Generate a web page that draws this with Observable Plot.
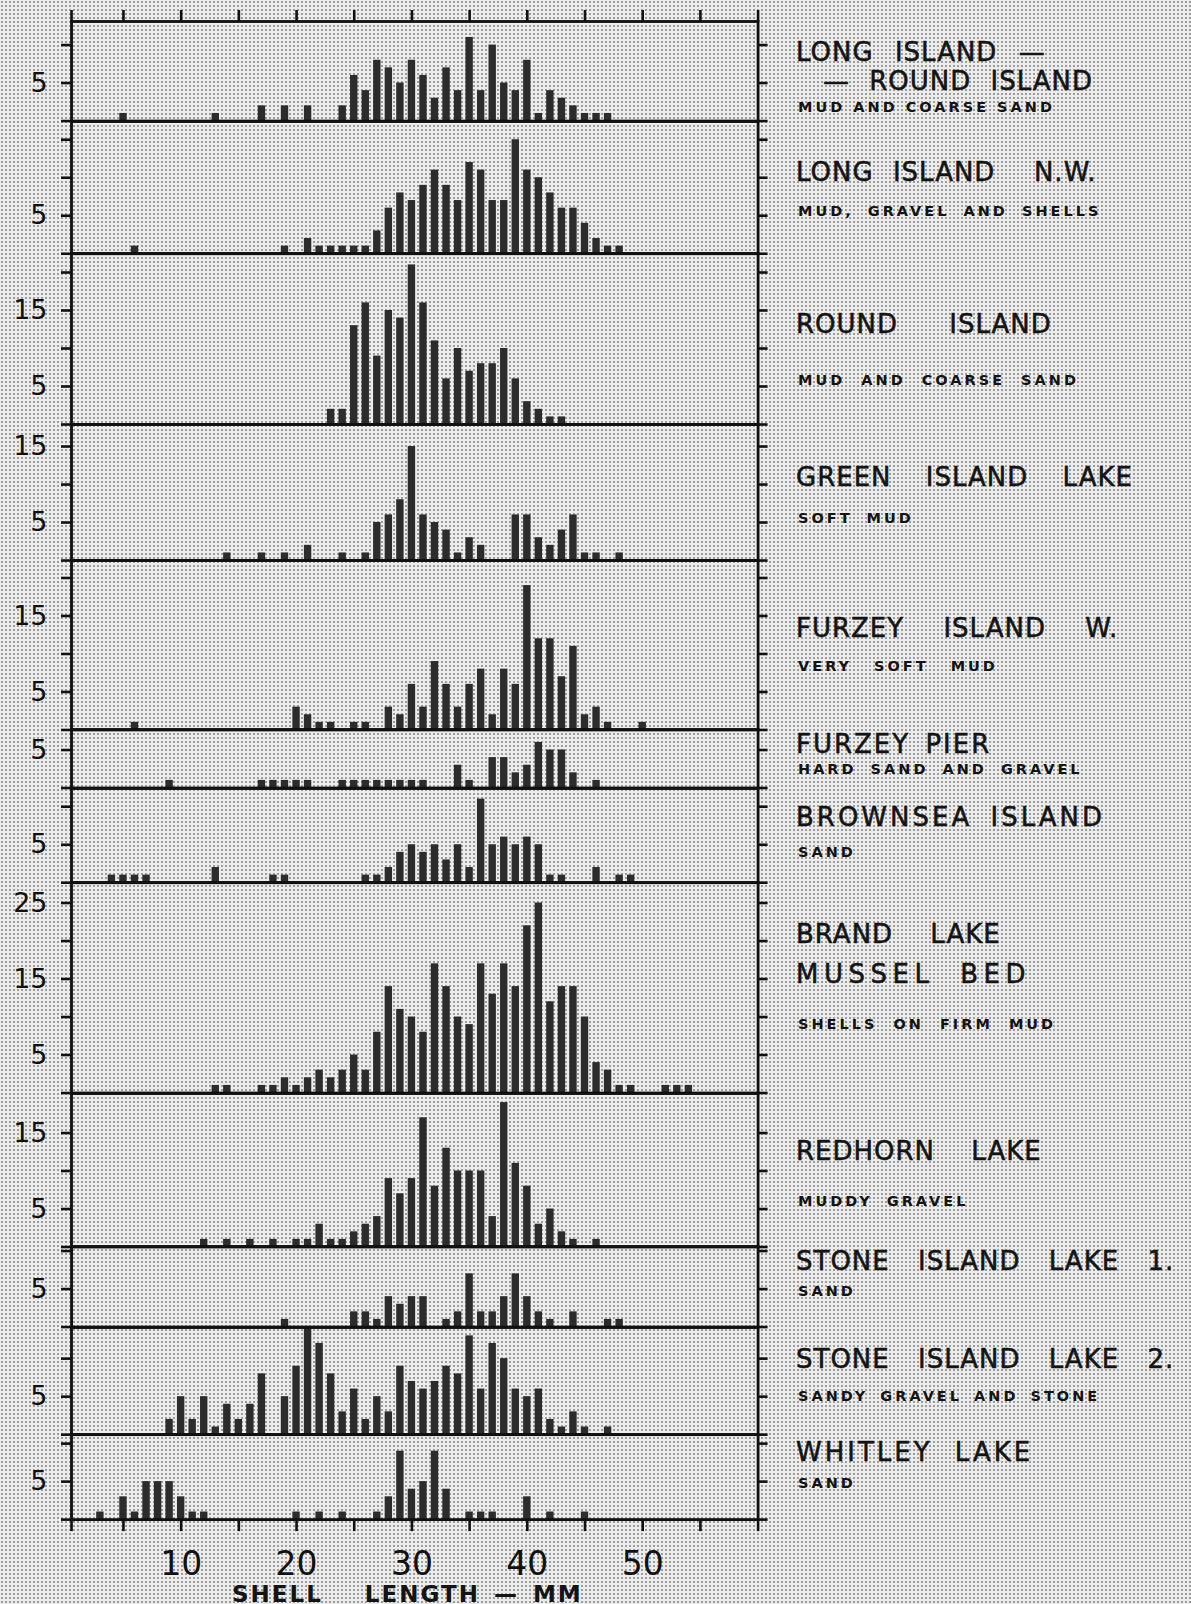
<!DOCTYPE html>
<html>
<head>
<meta charset="utf-8">
<script src="https://cdn.jsdelivr.net/npm/d3@7"></script>
<script src="https://cdn.jsdelivr.net/npm/@observablehq/plot@0.6"></script>
<style>
  html, body { margin: 0; padding: 0; }
  body {
    width: 1191px; height: 1604px; overflow: hidden;
    background-color: #ececec;
    background-image: radial-gradient(circle, rgba(60,60,60,0.45) 0.8px, rgba(0,0,0,0) 1.2px);
    background-size: 4px 4px;
  }
  #chart { position: relative; width: 1191px; height: 1604px; }
  #chart svg { position: absolute; left: 0; overflow: visible; }
  .lab { position: absolute; white-space: pre; font-family: "DejaVu Sans", sans-serif; color: #141414; transform: translateY(-50%); line-height: 1; }
  .title { font-size: 26px; letter-spacing: 1px; -webkit-text-stroke: 0.5px #141414; }
  .sub { font-size: 14.5px; font-weight: bold; letter-spacing: 3px; word-spacing: 6px; }
  .xlab { font-size: 23px; font-weight: bold; letter-spacing: 2px; word-spacing: 4px; }
</style>
</head>
<body>
<div id="chart"></div>
<script>
// ---------- DATA (shell length in mm -> number of shells) ----------
const llriLen = [5,13,17,19,21,24,25,26,27,28,29,30,31,32,33,34,35,36,37,38,39,40,41,42,43,44,45,46,47];
const llriN   = [1,1,2,2,2,2,6,4,8,7,5,8,6,3,7,4,11,4,10,5,4,8,1,4,3,2,1,1,1];

const lnwLen = [6,19,21,22,23,24,25,26,27,28,29,30,31,32,33,34,35,36,37,38,39,40,41,42,43,44,45,46,47,48];
const lnwN   = [1,1,2,1,1,1,1,1,3,6,8,7,9,11,9,7,12,11,7,7,15,11,10,8,6,6,4,2,1,1];

const riLen = [23,24,25,26,27,28,29,30,31,32,33,34,35,36,37,38,39,40,41,42,43];
const riN   = [2,2,13,16,9,15,14,21,16,11,6,10,7,8,8,10,6,3,2,1,1];

const gilLen = [14,17,19,21,24,26,27,28,29,30,31,32,33,34,35,36,39,40,41,42,43,44,45,46,48];
const gilN   = [1,1,1,2,1,1,5,6,8,15,6,5,4,1,3,2,6,6,3,2,4,6,1,1,1];

const fiwLen = [6,20,21,22,23,25,26,28,29,30,31,32,33,34,35,36,37,38,39,40,41,42,43,44,45,46,47,50];
const fiwN   = [1,3,2,1,1,1,1,3,2,6,3,9,6,3,6,8,2,8,6,19,12,12,7,11,2,3,1,1];

const fpLen = [9,17,18,19,20,21,24,25,26,27,28,29,30,31,34,35,37,38,39,40,41,42,43,44,46];
const fpN   = [1,1,1,1,1,1,1,1,1,1,1,1,1,1,3,1,4,4,2,3,6,5,5,2,1];

const bsLen = [4,5,6,7,13,18,19,26,27,28,29,30,31,32,33,34,35,36,37,38,39,40,41,42,43,46,48,49];
const bsN   = [1,1,1,1,2,1,1,1,1,2,4,5,4,5,3,5,2,11,5,6,5,6,5,1,1,2,1,1];

const blLen = [13,14,17,18,19,20,21,22,23,24,25,26,27,28,29,30,31,32,33,34,35,36,37,38,39,40,41,42,43,44,45,46,47,48,49,52,53,54];
const blN   = [1,1,1,1,2,1,2,3,2,3,5,3,8,14,11,10,8,17,14,10,9,17,13,17,14,22,25,12,14,14,10,4,3,1,1,1,1,1];

const rlLen = [12,14,16,18,20,21,22,23,24,25,26,27,28,29,30,31,32,33,34,35,36,37,38,39,40,41,42,43,44,46];
const rlN   = [1,1,1,1,1,1,3,1,1,2,3,4,9,7,9,17,8,13,10,10,10,4,19,11,8,3,5,2,1,1];

const sil1Len = [19,25,26,27,28,29,30,31,33,34,35,36,37,38,39,40,41,42,44,47,48];
const sil1N   = [1,2,2,1,4,3,4,4,1,2,7,2,2,4,7,4,2,1,2,1,1];

const sil2Len = [9,10,11,12,13,14,15,16,17,19,20,21,22,23,24,25,26,27,28,29,30,31,32,33,34,35,36,37,38,39,40,41,42,43,44,45,47];
const sil2N   = [2,5,2,5,1,4,2,4,8,5,9,14,12,8,3,6,2,5,3,9,7,6,7,9,8,13,6,12,10,6,5,6,2,1,3,1,1];

const wlLen = [3,5,6,7,8,9,10,11,12,20,22,24,27,28,29,30,31,32,33,35,36,37,40,42,45];
const wlN   = [1,3,1,5,5,5,3,1,1,1,1,1,1,3,9,4,5,9,4,1,1,1,3,1,1];

// axis extents / ticks (counts)
const yMaxes  = [13.1, 17.4, 22.5, 17.9, 22.3, 7.7, 12.4, 27.7, 20.2, 10.6, 14.1, 11.2];
const yTicks  = [[0,5,10],[0,5,10,15],[0,5,10,15,20],[0,5,10,15],[0,5,10,15,20],[0,5],[0,5,10],[0,5,10,15,20,25],[0,5,10,15],[0,5,10],[0,5,10],[0,5,10]];
const yLabels = [[5],[5],[5,15],[5,15],[5,15],[5],[5],[5,15,25],[5,15],[5],[5],[5]];

const xDomain = [0.5, 60];
const xTicks  = [0.5,5,10,15,20,25,30,35,40,45,50,55,60];
const xLabels = [10,20,30,40,50];
const xTitle  = "SHELL   LENGTH — MM";

// station names and bottom types
const titles = [
  ["LONG ISLAND —", "— ROUND ISLAND"],
  ["LONG ISLAND  N.W."],
  ["ROUND ISLAND"],
  ["GREEN ISLAND LAKE"],
  ["FURZEY ISLAND W."],
  ["FURZEY PIER"],
  ["BROWNSEA ISLAND"],
  ["BRAND LAKE", "MUSSEL BED"],
  ["REDHORN LAKE"],
  ["STONE ISLAND LAKE 1."],
  ["STONE ISLAND LAKE 2."],
  ["WHITLEY LAKE"]
];
const subtitles = [
  "MUD AND COARSE SAND",
  "MUD, GRAVEL AND SHELLS",
  "MUD AND COARSE SAND",
  "SOFT MUD",
  "VERY SOFT MUD",
  "HARD SAND AND GRAVEL",
  "SAND",
  "SHELLS ON FIRM MUD",
  "MUDDY GRAVEL",
  "SAND",
  "SANDY GRAVEL AND STONE",
  "SAND"
];

const series = [
  [llriLen, llriN], [lnwLen, lnwN], [riLen, riN], [gilLen, gilN], [fiwLen, fiwN], [fpLen, fpN],
  [bsLen, bsN], [blLen, blN], [rlLen, rlN], [sil1Len, sil1N], [sil2Len, sil2N], [wlLen, wlN]
];

// ---------- LAYOUT (pixels) ----------
const W = 1191, X_LEFT = 71, X_RIGHT = 757.6, UNIT = 7.6, FIRST_TOP = 21, BAR_HALF = 0.32;
const titleDy = [[30.7, 59.7],[51.4],[71],[53],[68.6],[14.4],[29],[52.4, 92.4],[58],[14.5],[32],[18.3]];
const titleDx = [[796, 823],[796],[796],[796],[796],[796],[796],[796, 796],[796],[796],[796],[796]];
const titleWs = [[12, 10],[10],[42],[25],[30],[5],[7],[28, 12],[27],[19],[19],[11]];
const titleLs = [[1, 1],[1],[1],[1],[1],[2],[3],[1, 5.5],[1],[1],[1],[3]];
const subDy   = [85.7, 90.4, 127, 94, 106.6, 39.4, 64.6, 142.4, 108, 45, 69.7, 49.3];
const subWs   = [0, 6, 8, 6, 14, 6, 6, 8, 6, 6, 4, 6];

const chart = document.getElementById("chart");
function addLabel(text, cls, x, y, ws, ls) {
  const d = document.createElement("div");
  d.className = "lab " + cls;
  d.textContent = text;
  d.style.left = x + "px";
  d.style.top = y + "px";
  if (ws != null) d.style.wordSpacing = ws + "px";
  if (ls != null) d.style.letterSpacing = ls + "px";
  chart.appendChild(d);
}

let yTop = FIRST_TOP;
series.forEach(([lens, counts], i) => {
  const rows = lens.map((len, j) => ({len, n: counts[j]}));
  const ymax = yMaxes[i];
  const h = ymax * UNIT;
  const first = i === 0, last = i === series.length - 1;
  const mt = first ? 22 : 0, mb = last ? 90 : 0;
  const labs = yLabels[i];
  const marks = [
    Plot.rectY(rows, {x1: d => d.len - BAR_HALF, x2: d => d.len + BAR_HALF, y: "n", fill: "#2c2c2c"}),
    Plot.axisY({anchor: "left", ticks: yTicks[i].filter(t => t < ymax), tickSize: 10, tickPadding: 14, strokeWidth: 2.6, fontSize: 27, label: null,
                tickFormat: d => labs.includes(d) ? String(d) : ""}),
    Plot.axisY({anchor: "right", ticks: yTicks[i].filter(t => t < ymax), tickSize: 9, strokeWidth: 2.6, label: null, tickFormat: () => ""})
  ];
  if (first) marks.push(Plot.axisX({anchor: "top", ticks: xTicks, tickSize: 12, strokeWidth: 2.6, label: null, tickFormat: () => ""}));
  if (last) marks.push(Plot.axisX({anchor: "bottom", ticks: xTicks, tickSize: 12, tickPadding: 20, strokeWidth: 2.6, fontSize: 33, label: null,
                tickFormat: d => xLabels.includes(d) ? String(d) : ""}));
  marks.push(Plot.frame({stroke: "#111", strokeWidth: 2.8}));
  const svg = Plot.plot({
    width: W, height: h + mt + mb,
    marginLeft: X_LEFT, marginRight: W - X_RIGHT, marginTop: mt, marginBottom: mb,
    x: {domain: xDomain, axis: null},
    y: {domain: [0, ymax], axis: null},
    style: {background: "transparent", overflow: "visible", fontFamily: "DejaVu Sans, sans-serif", color: "#111"},
    marks
  });
  svg.style.top = (yTop - mt) + "px";
  chart.appendChild(svg);

  titles[i].forEach((t, k) => addLabel(t, "title", titleDx[i][k], yTop + titleDy[i][k], titleWs[i][k], titleLs[i][k]));
  addLabel(subtitles[i], "sub", 798, yTop + subDy[i], subWs[i], null);
  yTop += h;
});
addLabel(xTitle, "xlab", 232, 1594, null, null);
</script>
</body>
</html>
